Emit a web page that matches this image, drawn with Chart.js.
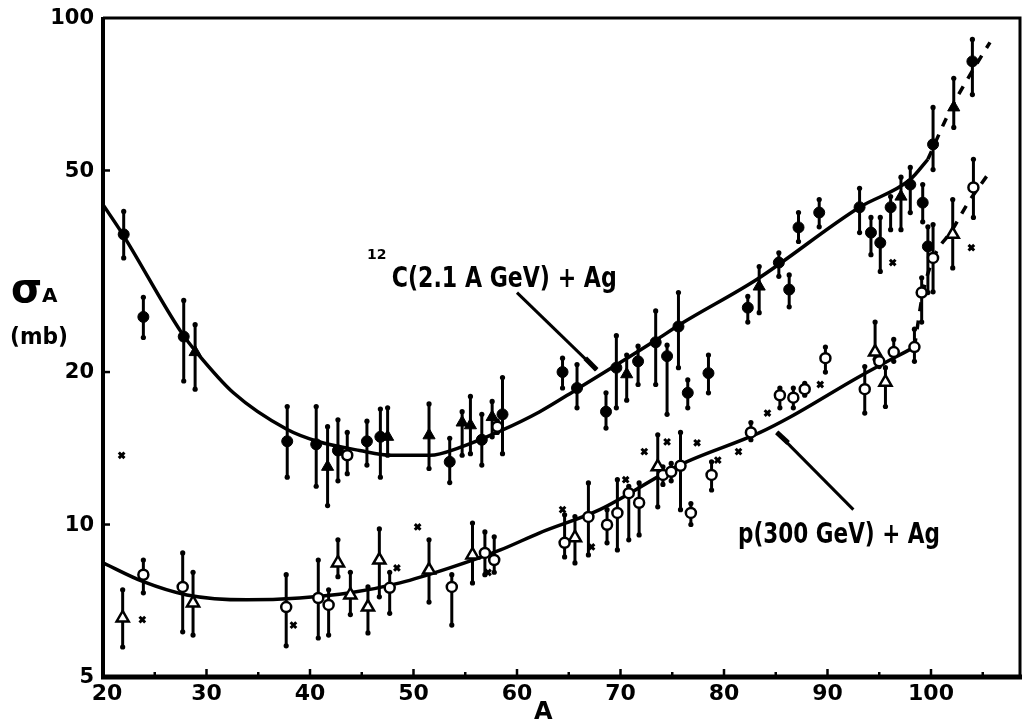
<!DOCTYPE html>
<html>
<head>
<meta charset="utf-8">
<script src="https://cdn.jsdelivr.net/npm/chart.js@4.4.0/dist/chart.umd.min.js"></script>
<style>
  html, body { margin: 0; padding: 0; background: #fff; }
  #wrap { width: 1023px; height: 722px; }
</style>
</head>
<body>
<div id="wrap"><canvas id="chart" width="1023" height="722"></canvas></div>
<script>
// 12C(2.1 A GeV) + Ag, filled circles
const cCircA  = [22.0, 23.9, 27.8, 37.8, 40.6, 42.7, 45.5, 46.8, 53.5, 56.6, 58.6, 64.4, 65.8, 68.6, 69.6, 71.7, 73.4, 74.5, 75.6, 76.5, 78.5, 82.3, 85.3, 86.3, 87.2, 89.2, 93.1, 94.2, 95.1, 96.1, 98.0, 99.2, 99.7, 100.2, 104.0];
const cCircY  = [37.4, 25.7, 23.5, 14.6, 14.4, 14.0, 14.6, 14.9, 13.3, 14.7, 16.5, 20.0, 18.6, 16.7, 20.4, 21.0, 22.9, 21.5, 24.6, 18.2, 19.9, 26.8, 32.9, 29.1, 38.6, 41.3, 42.3, 37.7, 36.0, 42.3, 46.9, 43.2, 35.4, 56.3, 82.1];
const cCircLo = [33.6, 23.4, 19.2, 12.4, 11.9, 12.2, 13.1, 12.4, 12.1, 13.1, 13.8, 18.6, 17.0, 15.5, 17.0, 18.9, 18.9, 16.5, 20.4, 17.0, 18.2, 25.1, 30.9, 26.9, 36.2, 38.7, 37.7, 34.1, 31.6, 38.2, 41.3, 39.6, 28.7, 50.2, 70.6];
const cCircHi = [41.5, 28.1, 27.7, 17.1, 17.1, 16.1, 16.0, 16.9, 14.8, 16.5, 19.5, 21.3, 20.7, 18.2, 23.6, 22.5, 26.4, 22.6, 28.7, 19.3, 21.6, 28.2, 34.4, 31.1, 41.3, 43.8, 46.1, 40.4, 40.4, 44.4, 50.7, 46.9, 38.7, 66.6, 90.7];

// 12C + Ag, filled triangles
const cTriA  = [28.9, 41.7, 47.5, 51.5, 54.7, 55.5, 57.6, 70.6, 83.4, 97.1, 102.2];
const cTriY  = [21.9, 13.0, 14.9, 15.0, 15.9, 15.7, 16.3, 19.8, 29.5, 44.4, 66.6];
const cTriLo = [18.5, 10.9, 13.7, 12.9, 13.7, 13.8, 14.9, 17.6, 26.2, 38.2, 60.8];
const cTriHi = [24.8, 15.6, 17.0, 17.3, 16.7, 17.9, 17.5, 21.6, 32.3, 48.5, 76.0];

// 12C + Ag, open circles
const cOpenA  = [43.6, 58.1];
const cOpenY  = [13.7, 15.6];
const cOpenLo = [12.6, 15.2];
const cOpenHi = [15.2, 16.0];

// p(300 GeV) + Ag, open circles
const pCircA  = [23.9, 27.7, 37.7, 40.8, 41.8, 47.7, 53.7, 56.9, 57.8, 64.6, 66.9, 68.7, 69.7, 70.8, 71.8, 74.1, 74.9, 75.8, 76.8, 78.8, 82.6, 85.4, 86.7, 87.8, 89.8, 93.6, 95.0, 96.4, 98.4, 99.1, 100.2, 104.1];
const pCircY  = [7.96, 7.53, 6.87, 7.16, 6.94, 7.50, 7.53, 8.79, 8.51, 9.20, 10.35, 9.99, 10.54, 11.53, 11.04, 12.53, 12.71, 13.06, 10.54, 12.53, 15.2, 18.0, 17.8, 18.5, 21.3, 18.5, 21.0, 21.9, 22.4, 28.7, 33.6, 46.3];
const pCircLo = [7.33, 6.14, 5.76, 5.97, 6.05, 6.68, 6.33, 7.96, 8.05, 8.63, 8.71, 9.20, 8.91, 9.33, 9.54, 12.0, 12.2, 10.7, 10.0, 11.7, 14.7, 17.0, 17.0, 18.0, 20.0, 16.6, 20.5, 21.0, 21.0, 25.1, 28.8, 40.4];
const pCircHi = [8.51, 8.79, 7.96, 8.51, 7.43, 8.05, 7.96, 9.67, 9.46, 10.45, 12.08, 10.7, 12.26, 11.9, 12.08, 13.0, 13.2, 15.2, 11.0, 13.3, 15.9, 18.6, 18.6, 19.0, 22.4, 20.5, 21.5, 23.2, 24.3, 30.7, 39.1, 52.6];

// p + Ag, open triangles
const pTriA  = [21.9, 28.7, 42.7, 43.9, 45.6, 46.7, 51.5, 55.7, 65.6, 73.6, 94.6, 95.6, 102.1];
const pTriY  = [6.54, 7.0, 8.40, 7.26, 6.87, 8.51, 8.13, 8.71, 9.42, 13.0, 21.9, 19.1, 37.4];
const pTriLo = [5.73, 6.05, 7.89, 6.64, 6.11, 7.20, 7.03, 7.67, 8.40, 10.84, 21.2, 17.1, 32.1];
const pTriHi = [7.43, 8.05, 9.33, 8.05, 7.53, 9.80, 9.33, 10.07, 10.37, 15.04, 25.1, 20.4, 43.8];

// small x marks
const xMarkA = [21.8, 23.8, 38.4, 48.4, 50.4, 57.2, 64.4, 67.2, 70.5, 72.3, 74.5, 77.4, 79.4, 81.4, 84.2, 89.3, 96.3, 103.9];
const xMarkY = [13.7, 6.49, 6.33, 8.21, 9.89, 8.04, 10.7, 9.03, 12.26, 13.93, 14.56, 14.5, 13.4, 13.93, 16.6, 18.9, 32.9, 35.2];

// fitted curves
const cFitA = [20, 21.8, 27.6, 29.1, 32.6, 37.8, 40.7, 44.8, 47.9, 51.6, 54.5, 58.4, 62.2, 65.8, 73.4, 75.7, 83.2, 93.1, 98.0, 99.7];
const cFitY = [42.8, 37.7, 23.9, 21.8, 18.2, 15.4, 14.6, 14.0, 13.7, 13.7, 14.2, 15.3, 16.7, 18.5, 23.1, 24.8, 30.5, 42.3, 48.0, 52.6];
const cDashA = [99.7, 101.8, 103.8, 105.7];
const cDashY = [52.6, 65.4, 77.4, 89.5];
const pFitA = [20, 23.9, 28.1, 33.9, 39.0, 43.9, 48.7, 53.5, 58.4, 62.2, 68.0, 75.7, 83.5, 86.4, 93.1, 98.4];
const pFitY = [8.40, 7.71, 7.26, 7.10, 7.16, 7.33, 7.67, 8.21, 8.91, 9.63, 10.7, 13.1, 15.2, 16.3, 19.6, 22.4];
const pDashA = [98.4, 99.2, 100.3, 102.0, 103.6, 105.5];
const pDashY = [22.4, 28.5, 33.8, 38.0, 43.2, 49.1];

const xTicks = [20, 30, 40, 50, 60, 70, 80, 90, 100];
const yTicks = [5, 10, 20, 50, 100];

const pts = (xs, ys) => xs.map((x, i) => ({ x: x, y: ys[i] }));

// error bars drawn under the markers
const errBars = {
  id: "errBars",
  beforeDatasetsDraw(chart) {
    const ctx = chart.ctx;
    const xs = chart.scales.x, ys = chart.scales.y;
    ctx.save();
    ctx.strokeStyle = "#000";
    ctx.fillStyle = "#000";
    ctx.lineWidth = 3;
    chart.data.datasets.forEach((ds) => {
      if (!ds.lo) return;
      ds.data.forEach((p, i) => {
        const px = xs.getPixelForValue(p.x);
        const y1 = ys.getPixelForValue(ds.hi[i]);
        const y2 = ys.getPixelForValue(ds.lo[i]);
        ctx.beginPath();
        ctx.moveTo(px, y1);
        ctx.lineTo(px, y2);
        ctx.stroke();
        [y1, y2].forEach((yy) => {
          ctx.beginPath();
          ctx.arc(px, yy, 2.6, 0, Math.PI * 2);
          ctx.fill();
        });
      });
    });
    ctx.restore();
  },
};

function fitText(ctx, text, x, y, w) {
  const m = ctx.measureText(text).width;
  ctx.save();
  ctx.translate(x, y);
  ctx.scale(w / m, 1);
  ctx.fillText(text, 0, 0);
  ctx.restore();
}

// frame, ticks, labels and annotations
const decor = {
  id: "decor",
  afterDraw(chart) {
    const ctx = chart.ctx;
    const a = chart.chartArea;
    const xs = chart.scales.x, ys = chart.scales.y;
    ctx.save();
    ctx.strokeStyle = "#000";
    ctx.fillStyle = "#000";

    // frame
    ctx.lineWidth = 3;
    ctx.beginPath();
    ctx.moveTo(a.left, a.top);
    ctx.lineTo(a.right, a.top);
    ctx.lineTo(a.right, a.bottom);
    ctx.stroke();
    ctx.lineWidth = 4;
    ctx.beginPath();
    ctx.moveTo(a.left, a.top - 1);
    ctx.lineTo(a.left, a.bottom + 2);
    ctx.stroke();
    ctx.lineWidth = 5;
    ctx.beginPath();
    ctx.moveTo(a.left - 2, a.bottom);
    ctx.lineTo(a.right + 2, a.bottom);
    ctx.stroke();

    // x ticks every 5
    ctx.lineWidth = 2.5;
    for (let v = 25; v <= 105; v += 5) {
      const px = xs.getPixelForValue(v);
      const len = v % 10 === 0 ? 8 : 5;
      ctx.beginPath();
      ctx.moveTo(px, a.bottom);
      ctx.lineTo(px, a.bottom - len);
      ctx.stroke();
    }
    // y ticks
    [10, 20, 50].forEach((v) => {
      const py = ys.getPixelForValue(v);
      ctx.beginPath();
      ctx.moveTo(a.left, py);
      ctx.lineTo(a.left + 7, py);
      ctx.stroke();
    });

    // tick labels
    ctx.font = "bold 22px 'DejaVu Sans'";
    ctx.textBaseline = "middle";
    ctx.textAlign = "center";
    xTicks.forEach((v) => {
      ctx.fillText(String(v), xs.getPixelForValue(v) + (v === 20 ? 4 : 0), a.bottom + 17);
    });
    ctx.textAlign = "right";
    ctx.font = "bold 21px 'DejaVu Sans'";
    yTicks.forEach((v) => {
      ctx.fillText(String(v), a.left - 9, ys.getPixelForValue(v) + 1);
    });

    // axis titles
    ctx.textAlign = "left";
    ctx.textBaseline = "alphabetic";
    ctx.font = "bold 24px 'DejaVu Sans'";
    ctx.fillText("A", 534, 719);
    ctx.font = "bold 40px 'DejaVu Sans'";
    ctx.fillText("\u03c3", 11, 302);
    ctx.font = "bold 20px 'DejaVu Sans'";
    ctx.fillText("A", 42, 302);
    ctx.font = "bold 23px 'DejaVu Sans'";
    fitText(ctx, "(mb)", 10, 344, 58);

    // annotations
    const X = (v) => xs.getPixelForValue(v);
    const Y = (v) => ys.getPixelForValue(v);
    ctx.font = "bold 14px 'DejaVu Sans'";
    ctx.fillText("12", X(45.5), Y(33.5));
    ctx.font = "bold 28px 'DejaVu Sans'";
    fitText(ctx, "C(2.1 A GeV) + Ag", X(47.9), Y(29.5), 225);
    fitText(ctx, "p(300 GeV) + Ag", X(81.35), Y(9.2), 202);

    ctx.lineWidth = 3;
    ctx.beginPath();
    ctx.moveTo(X(60.0), Y(28.7));
    ctx.lineTo(X(67.7), Y(20.2));
    ctx.stroke();
    ctx.lineWidth = 5;
    ctx.beginPath();
    ctx.moveTo(X(66.6), Y(21.3));
    ctx.lineTo(X(67.7), Y(20.2));
    ctx.stroke();

    ctx.lineWidth = 3;
    ctx.beginPath();
    ctx.moveTo(X(85.1), Y(15.2));
    ctx.lineTo(X(92.5), Y(10.7));
    ctx.stroke();
    ctx.lineWidth = 5;
    ctx.beginPath();
    ctx.moveTo(X(85.1), Y(15.2));
    ctx.lineTo(X(86.2), Y(14.5));
    ctx.stroke();

    ctx.restore();
  },
};

const curve = (xs, ys, dash) => ({
  data: pts(xs, ys),
  showLine: true,
  pointRadius: 0,
  borderColor: "#000",
  borderWidth: 3.5,
  borderDash: dash ? [9, 9] : [],
  cubicInterpolationMode: "monotone",
  fill: false,
});

const config = {
  type: "scatter",
  data: {
    datasets: [
      { data: pts(cCircA, cCircY), lo: cCircLo, hi: cCircHi, pointStyle: "circle", pointRadius: 5.5, backgroundColor: "#000", borderColor: "#000", borderWidth: 1 },
      { data: pts(cTriA, cTriY), lo: cTriLo, hi: cTriHi, pointStyle: "triangle", pointRadius: 7, backgroundColor: "#000", borderColor: "#000", borderWidth: 1 },
      { data: pts(cOpenA, cOpenY), lo: cOpenLo, hi: cOpenHi, pointStyle: "circle", pointRadius: 5, backgroundColor: "#fff", borderColor: "#000", borderWidth: 2.5 },
      { data: pts(pCircA, pCircY), lo: pCircLo, hi: pCircHi, pointStyle: "circle", pointRadius: 5, backgroundColor: "#fff", borderColor: "#000", borderWidth: 2.5 },
      { data: pts(pTriA, pTriY), lo: pTriLo, hi: pTriHi, pointStyle: "triangle", pointRadius: 7, backgroundColor: "#fff", borderColor: "#000", borderWidth: 2.5 },
      { data: pts(xMarkA, xMarkY), pointStyle: "crossRot", pointRadius: 4, borderColor: "#000", borderWidth: 3 },
      curve(cFitA, cFitY, false),
      curve(cDashA, cDashY, true),
      curve(pFitA, pFitY, false),
      curve(pDashA, pDashY, true),
    ],
  },
  options: {
    responsive: false,
    animation: false,
    devicePixelRatio: 1,
    layout: { autoPadding: false, padding: { top: 18, right: 3, left: 0, bottom: 0 } },
    scales: {
      x: {
        type: "linear",
        min: 20,
        max: 108.6,
        ticks: { display: false },
        grid: { display: false },
        border: { display: false },
        afterFit: (s) => { s.height = 45; },
      },
      y: {
        type: "logarithmic",
        min: 5,
        max: 100,
        ticks: { display: false },
        grid: { display: false },
        border: { display: false },
        afterFit: (s) => { s.width = 103; },
      },
    },
    plugins: {
      legend: { display: false },
      tooltip: { enabled: false },
    },
  },
  plugins: [errBars, decor],
};

const ctx = document.getElementById("chart").getContext("2d");
const chart = new Chart(ctx, config);
</script>
</body>
</html>
